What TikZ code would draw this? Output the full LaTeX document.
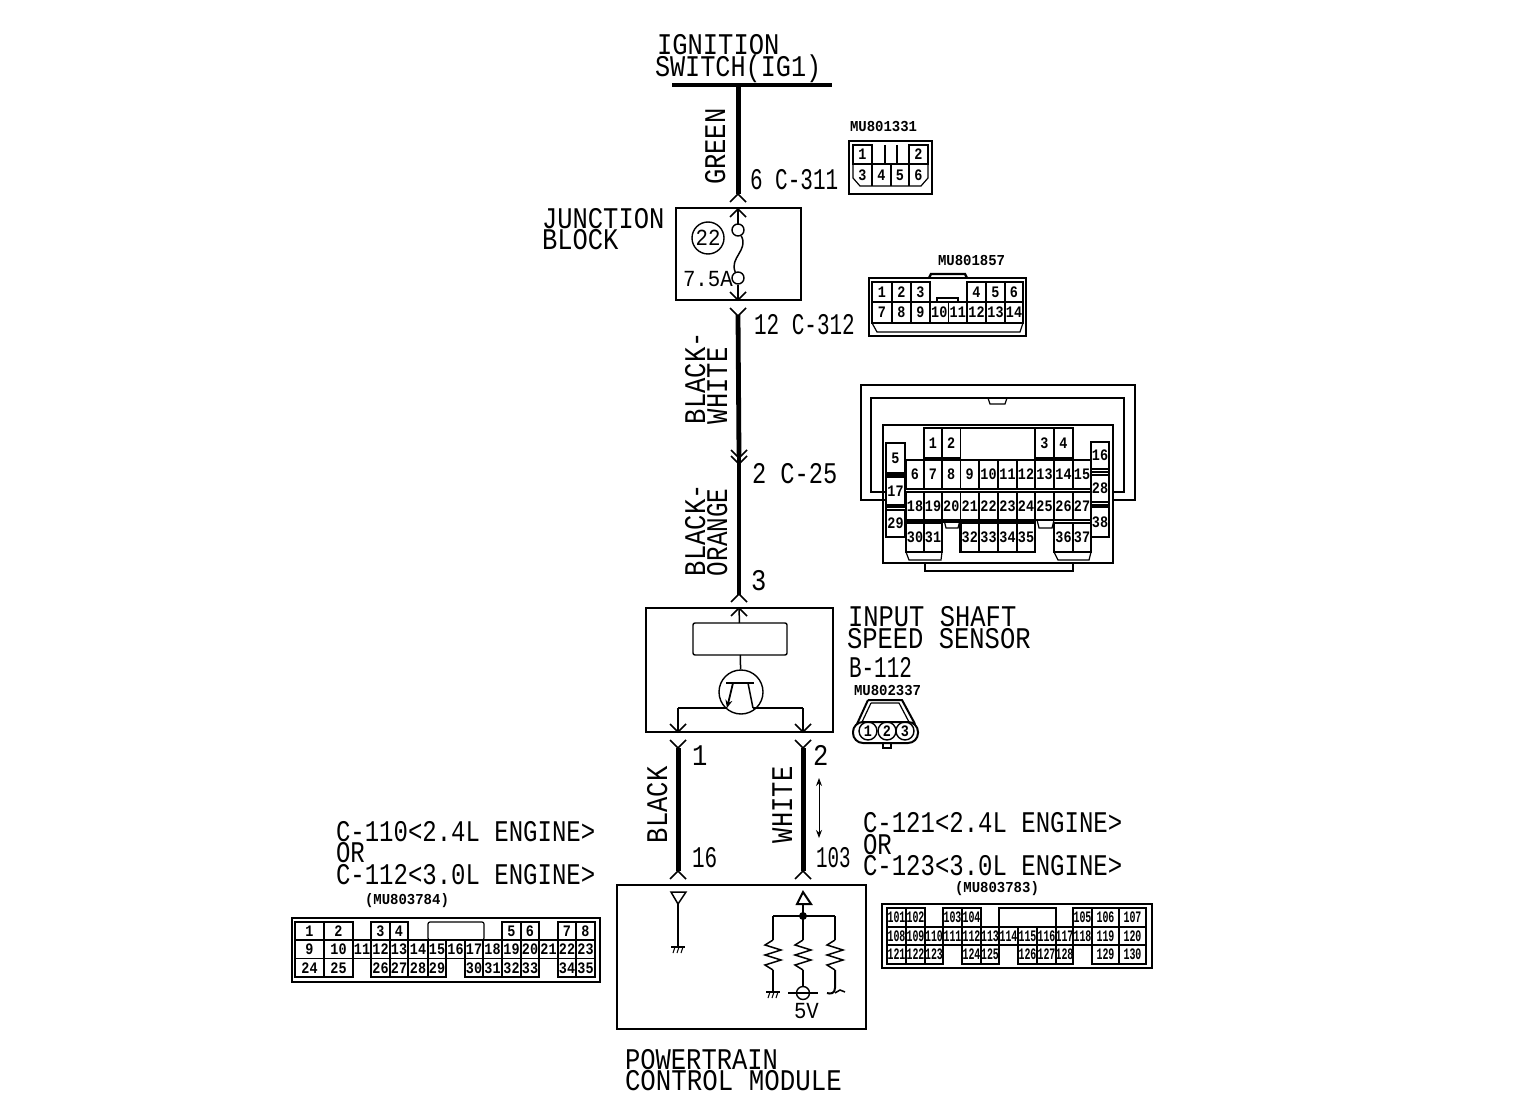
\documentclass[tikz,border=0pt]{standalone}
\usepackage{fontspec}
\usepackage{graphicx}
\newfontfamily\monof{Liberation Mono}
\usetikzlibrary{arrows.meta}
\newcounter{pinctr}
\newcommand{\bigx}[2]{\scalebox{#1}[1]{\fontsize{15}{15}\selectfont\monof #2}}
\newcommand{\bigt}[1]{\bigx{.85}{#1}}
\newcommand{\midt}[1]{\scalebox{.9}[1]{\fontsize{11.5}{12}\selectfont\monof #1}}
\newcommand{\smallt}[1]{\scalebox{.92}[1]{\fontsize{7.6}{8}\selectfont\monof\bfseries #1}}
\newcommand{\pint}[1]{\scalebox{.84}[1]{\fontsize{8}{8}\selectfont\monof\bfseries #1}}
\newcommand{\pinw}[1]{\scalebox{.62}[1]{\fontsize{8}{8}\selectfont\monof\bfseries #1}}
% x1 x2 y1 y2 label
\newcommand{\pinc}[5]{\stepcounter{pinctr}%
  \draw[pinl] (#1,#3) rectangle (#2,#4);%
  \node[txt,anchor=center,name=p\thepinctr] at ({(#1+#2)/2},{(#3+#4)/2}) {\pint{#5}};}
\newcommand{\pinb}[5]{\stepcounter{pinctr}%
  \draw[pinl] (#1,#3) rectangle (#2,#4);%
  \node[txt,anchor=center,name=p\thepinctr] at ({(#1+#2)/2},{(#3+#4)/2}) {\pinw{#5}};}
\newcommand{\chevup}[2]{\draw[thinw] ({#1-8},{#2+8}) -- (#1,#2) -- ({#1+8},{#2+8});}
\newcommand{\chevdn}[2]{\draw[thinw] ({#1-8},{#2-8}) -- (#1,#2) -- ({#1+8},{#2-8});}
\newcommand{\resi}[2]{\draw[thinw] (#1,#2) -- ({#1-8},{#2+5}) -- ({#1+8},{#2+10}) -- ({#1-8},{#2+15}) -- ({#1+8},{#2+20}) -- ({#1-8},{#2+25}) -- (#1,{#2+30});}
\newcommand{\gnd}[2]{\draw[thinw] ({#1-7},#2) -- ({#1+7},#2);
  \foreach \k in {-4,0,4} {\draw[hair] ({#1+\k+1},#2) -- ({#1+\k-1},{#2+6});}}
\tikzset{
  x=0.5pt,y=-0.5pt,
  txt/.style={inner sep=0pt,outer sep=0pt,anchor=base west},
  wire/.style={line width=2.5pt},
  thinw/.style={line width=0.75pt},
  hair/.style={line width=0.5pt},
  pinl/.style={line width=0.6pt},
  thk/.style={line width=1.2pt},
  boxst/.style={draw,line width=0.7pt,inner sep=0pt,outer sep=0pt},
}
\begin{document}
\begin{tikzpicture}
\useasboundingbox (0,0) rectangle (1536,1096);
% ---------- coordinates
\coordinate (barL) at (672,85);
\coordinate (barR) at (832,85);
\coordinate (swb) at (738,85);
\coordinate (a311) at (738,194);
\coordinate (b311) at (738,208);
\coordinate (f1) at (738,230);
\coordinate (f2) at (738,278);
\coordinate (a312) at (738,300);
\coordinate (b312) at (738,315);
\coordinate (c25) at (739,595);
\coordinate (s3) at (739,608);
\coordinate (e1) at (678,708);
\coordinate (e2) at (803,708);
\coordinate (w1a) at (678,732);
\coordinate (w1b) at (678,748);
\coordinate (w2a) at (803,732);
\coordinate (w2b) at (803,748);
\coordinate (w1c) at (678,871);
\coordinate (w2c) at (803,871);
\coordinate (aU) at (819,778);
\coordinate (aD) at (819,838);
% ---------- main boxes
\node[boxst,minimum width=62.5pt,minimum height=46pt] (jb) at (738.5,254) {};
\node[boxst,minimum width=93.5pt,minimum height=62pt] (sens) at (739.5,670) {};
\node[boxst,minimum width=124.5pt,minimum height=72pt,line width=1pt] (pcm) at (741.5,957) {};
\node[boxst,rounded corners=1pt,minimum width=47pt,minimum height=16pt] (ic) at (740,639) {};
% ---------- wires
\draw[line width=2pt] (barL) -- (barR);
\draw[wire] (swb) -- (a311);
\chevup{738}{194}
\chevup{738}{209}
\draw[thinw] (b311) -- (738,224);
\node[draw,circle,line width=.7pt,minimum size=6pt,inner sep=0pt,fill=white] (fc1) at (f1) {};
\node[draw,circle,line width=.7pt,minimum size=6pt,inner sep=0pt,fill=white] (fc2) at (f2) {};
\draw[thinw] (fc1) .. controls (749,250) and (729,258) .. (fc2);
\draw[thinw] (fc2) -- (a312);
\chevdn{738}{300}
\chevdn{738}{316}
\draw[line width=2.4pt] (b312) -- (739,455);
\draw[line width=2pt] (739,455) -- (c25);
\chevdn{739}{458}
\chevdn{739}{464}
\chevup{739}{594}
\chevup{739}{608}
\draw[thinw] (s3) -- (ic);
% transistor
\node[draw,circle,line width=.7pt,minimum size=22pt,inner sep=0pt] (tr) at (741,692) {};
\draw[thinw] (ic) -- (tr);
\draw[line width=1pt] (726,683) -- (754,683);
\draw[line width=.9pt,-{Stealth[length=4pt,width=3.5pt]}] (733,683) -- (727,708);
\draw[thinw] (748,683) -- (753,708);
\draw[line width=1pt] (e1) -- (727,708);
\draw[thinw] (753,708) -- (e2);
\draw[thinw] (e1) -- (w1a);
\draw[thinw] (e2) -- (w2a);
\chevdn{678}{732}
\chevdn{803}{732}
\chevdn{678}{748}
\chevdn{803}{748}
\draw[wire] (w1b) -- (w1c);
\draw[wire] (w2b) -- (w2c);
\chevup{678}{871}
\chevup{803}{871}
\draw[hair,{Stealth[length=4pt,width=3pt]}-{Stealth[length=4pt,width=3pt]}] (aU) -- (aD);
% PCM internals
\draw[thinw] (671,892) -- (686,892) -- (678,904) -- cycle;
\draw[line width=1pt] (678,904) -- (678,947);
\gnd{678}{947}
\draw[line width=1pt] (803,892) -- (811,904) -- (797,904) -- cycle;
\draw[line width=1.2pt] (803,904) -- (803,940);
\draw[line width=1pt] (773,916) -- (803,916);
\draw[thinw] (803,916) -- (835,916);
\fill (803,916) circle[radius=4];
\draw[thinw] (773,916) -- (773,940);
\draw[thinw] (835,916) -- (835,940);
\resi{773}{940}
\resi{803}{940}
\resi{835}{940}
\draw[thinw] (773,970) -- (773,992);
\gnd{773}{992}
\draw[thinw] (803,970) -- (803,987);
\draw[thinw] (788,993) -- (818,993);
\node[draw,circle,line width=.7pt,minimum size=6.5pt,inner sep=0pt] (v5) at (803,993) {};
\draw[line width=1pt] (835,970) -- (835,988) .. controls (835,994) and (830,994) .. (827,993);
\draw[thinw] (835,993) -- (840,990) -- (845,992);
% ---------- labels
\node[txt] (t1) at (657,55) {\bigt{IGNITION}};
\node[txt] (t2) at (655,77) {\bigx{.84}{SWITCH(IG1)}};
\node[txt,rotate=90] (t3) at (725,185) {\bigt{GREEN}};
\node[txt] (t4) at (750,190) {\bigx{.70}{6 C-311}};
\node[txt] (t5) at (542,229) {\bigt{JUNCTION}};
\node[txt] (t6) at (542,250) {\bigt{BLOCK}};
\node[txt] (t7) at (683,287) {\midt{7.5A}};
\node[draw,circle,line width=.7pt,minimum size=16pt,inner sep=0pt] (c22) at (708,238) {\midt{22}};
\node[txt] (t8) at (754,335) {\bigx{.70}{12 C-312}};
\node[txt,rotate=90] (t9) at (705,424) {\bigt{BLACK-}};
\node[txt,rotate=90] (t10) at (727,424) {\bigt{WHITE}};
\node[txt] (t11) at (752,483) {\bigx{.79}{2 C-25}};
\node[txt,rotate=90] (t12) at (705,576) {\bigt{BLACK-}};
\node[txt,rotate=90] (t13) at (727,576) {\bigx{.81}{ORANGE}};
\node[txt] (t14) at (751,590) {\bigt{3}};
\node[txt] (t15) at (848,626) {\bigt{INPUT SHAFT}};
\node[txt] (t16) at (847,648) {\bigt{SPEED SENSOR}};
\node[txt] (t17) at (849,677) {\bigx{.70}{B-112}};
\node[txt] (t18) at (854,695) {\smallt{MU802337}};
\node[txt] (t19) at (692,765) {\bigt{1}};
\node[txt] (t20) at (813,765) {\bigt{2}};
\node[txt,rotate=90] (t21) at (667,843) {\bigt{BLACK}};
\node[txt,rotate=90] (t22) at (792,843) {\bigt{WHITE}};
\node[txt] (t23) at (692,867) {\bigx{.70}{16}};
\node[txt] (t24) at (816,867) {\bigx{.64}{103}};
\node[txt] (t25) at (336,841) {\bigx{.80}{C-110<2.4L ENGINE>}};
\node[txt] (t26) at (336,862) {\bigx{.80}{OR}};
\node[txt] (t27) at (336,884) {\bigx{.80}{C-112<3.0L ENGINE>}};
\node[txt] (t28) at (863,832) {\bigx{.80}{C-121<2.4L ENGINE>}};
\node[txt] (t29) at (863,854) {\bigx{.80}{OR}};
\node[txt] (t30) at (863,875) {\bigx{.80}{C-123<3.0L ENGINE>}};
\node[txt] (t31) at (365,904) {\smallt{(MU803784)}};
\node[txt] (t32) at (955,892) {\smallt{(MU803783)}};
\node[txt] (t33) at (625,1069) {\bigt{POWERTRAIN}};
\node[txt] (t34) at (625,1090) {\bigx{.86}{CONTROL MODULE}};
\node[txt] (t35) at (850,132) {\smallt{MU801331}};
\node[txt] (t36) at (938,266) {\smallt{MU801857}};
\node[txt] (t37) at (794,1018) {\midt{5V}};
% ---------- C-311 connector
\draw[thk] (849,141) rectangle (932,194);
\pinc{853}{872}{145}{164}{1}
\pinc{909}{928}{145}{164}{2}
\draw[pinl] (885,145) -- (885,164) (897,145) -- (897,164) (872,164) -- (909,164);
\draw[pinl] (853,164) -- (853,178) -- (860,186) -- (921,186) -- (928,178) -- (928,164);
\draw[pinl] (872,164) -- (872,186) (891,164) -- (891,186) (909,164) -- (909,186);
\node[txt,anchor=center] (n3) at (862.5,175) {\pint{3}};
\node[txt,anchor=center] (n4) at (881.5,175) {\pint{4}};
\node[txt,anchor=center] (n5) at (900,175) {\pint{5}};
\node[txt,anchor=center] (n6) at (918.5,175) {\pint{6}};
% ---------- C-312 connector
\draw[thk] (869,278) rectangle (1026,336);
\draw[thk] (929,278) -- (931,274) -- (965,274) -- (967,278);
\foreach \a/\b/\l in {872/892/1,892/911/2,911/930/3,967/986/4,986/1005/5,1005/1023/6}{\pinc{\a}{\b}{282}{302}{\l}}
\foreach \a/\b/\l in {872/892/7,892/911/8,911/930/9,930/948.5/10,948.5/967/11,967/986/12,986/1005/13,1005/1023/14}{\pinc{\a}{\b}{302}{323}{\l}}
\draw[pinl] (937,302) -- (937,298) -- (958,298) -- (958,302);
\draw[pinl] (872,323) -- (877,332) -- (1020,332) -- (1023,323);
% ---------- C-25 connector
\draw[pinl] (885,500) -- (861,500) -- (861,385) -- (1135,385) -- (1135,500) -- (1113,500);
\draw[pinl] (885,492) -- (871,492) -- (871,398) -- (1124,398) -- (1124,492) -- (1113,492);
\draw[pinl] (988,398) -- (990,404) -- (1005,404) -- (1007,398);
\draw[thinw] (883,425) rectangle (1113,563);
\draw[thinw] (925,563) -- (925,571) -- (1073,571) -- (1073,563);
\draw[pinl] (960.5,428) -- (1035,428) (960.5,460) -- (1035,460);
\foreach \a/\b/\l in {924/942/1,942/960.5/2,1035/1054/3,1054/1073/4}{\pinc{\a}{\b}{428}{458}{\l}}
\foreach \a/\b/\l in {906/924/6,924/942/7,942/960.5/8,960.5/979/9,979/998/10,998/1017/11,1017/1035/12,1035/1054/13,1054/1073/14,1073/1091/15}{\pinc{\a}{\b}{460}{489}{\l}}
\foreach \a/\b/\l in {906/924/18,924/942/19,942/960.5/20,960.5/979/21,979/998/22,998/1017/23,1017/1035/24,1035/1054/25,1054/1073/26,1073/1091/27}{\pinc{\a}{\b}{492}{520}{\l}}
\foreach \a/\b/\l in {906/924/30,924/942/31,960.5/979/32,979/998/33,998/1017/34,1017/1035/35,1054/1073/36,1073/1091/37}{\pinc{\a}{\b}{523}{552}{\l}}
\foreach \c/\d/\l in {443/473/5,477/505/17,510/537/29}{\pinc{886}{905}{\c}{\d}{\l}}
\foreach \c/\d/\l in {442/469/16,475/502/28,507/537/38}{\pinc{1091}{1109}{\c}{\d}{\l}}
\draw[thk] (906,489) -- (1091,489) (906,522) -- (1035,522);
\draw[thk] (906,492) -- (906,552) -- (942,552) (960.5,522) -- (960.5,552) -- (1035,552) -- (1035,492);
\draw[thk] (886,443) -- (886,537) -- (905,537) (1109,442) -- (1109,510) (886,475) -- (905,475) (886,507) -- (905,507) (1091,472) -- (1109,472) (1091,505) -- (1109,505);
\draw[pinl] (906,552) -- (909,560) -- (941,560) -- (942,552);
\draw[pinl] (1054,552) -- (1058,560) -- (1089,560) -- (1091,552);
\draw[pinl] (944,520) -- (946,528) -- (958,528) -- (960,520);
\draw[pinl] (1037,520) -- (1039,528) -- (1052,528) -- (1054,520);
% ---------- MU802337 connector
\draw[line width=1pt] (868,700) -- (902,700) -- (915,724) (868,700) -- (857,724);
\draw[pinl] (871,703) -- (899,703) -- (909,722) (871,703) -- (862,722);
\node[draw,rounded corners=5pt,line width=1pt,minimum width=32.5pt,minimum height=10.5pt,inner sep=0pt] (cap) at (885.5,732.5) {};
\foreach \cx/\l in {868/1,887/2,905/3}{\stepcounter{pinctr}\node[draw,circle,line width=.7pt,minimum size=9pt,inner sep=0pt,name=p\thepinctr] at (\cx,731) {\pint{\l}};}
\draw[pinl] (883,743) rectangle (891,748);
% ---------- C-110 connector
\draw[thinw] (292,918) rectangle (600,982);
\foreach \a/\b/\l in {295/324/1,324/353/2,371/390/3,390/408/4,502/521/5,521/539/6,558/576/7,576/595/8}{\pinc{\a}{\b}{922}{940}{\l}}
\draw[pinl,rounded corners=1pt] (428,922) rectangle (484,940);
\foreach \a/\b/\l in {295/324/9,324/353/10,353/371/11,371/390/12,390/408/13,408/428/14,428/446/15,446/465/16,465/483/17,483/502/18,502/521/19,521/539/20,539/558/21,558/576/22,576/595/23}{\pinc{\a}{\b}{940}{958.5}{\l}}
\foreach \a/\b/\l in {295/324/24,324/353/25,371/390/26,390/408/27,408/428/28,428/446/29,465/483/30,483/502/31,502/521/32,521/539/33,558/576/34,576/595/35}{\pinc{\a}{\b}{958.5}{977}{\l}}
\draw[thk] (295,922) rectangle (353,977) (295,940) -- (353,940);
\draw[thk] (324,922) -- (324,940) (390,922) rectangle (408,977);
\draw[thk] (371,940) -- (408,940) (446,958.5) -- (446,977) (446,940) -- (502,940) (502,922) rectangle (539,940);
\draw[thk] (558,922) rectangle (595,977) (558,940) -- (595,940) (502,940) -- (502,977);
% ---------- C-121 connector
\draw[thk] (882,904) rectangle (1152,968);
\foreach \a/\b/\l in {887/906/101,906/925/102,943/962/103,962/981/104,1073/1092/105,1092/1119/106,1119/1146/107}{\pinb{\a}{\b}{908}{927}{\l}}
\draw[pinl] (999,908) rectangle (1056,927);
\foreach \a/\b/\l in {887/906/108,906/925/109,925/943/110,943/962/111,962/981/112,981/999/113,999/1018/114,1018/1037/115,1037/1056/116,1056/1073/117,1073/1092/118,1092/1119/119,1119/1146/120}{\pinb{\a}{\b}{927}{945}{\l}}
\foreach \a/\b/\l in {887/906/121,906/925/122,925/943/123,962/981/124,981/999/125,1018/1037/126,1037/1056/127,1056/1073/128,1092/1119/129,1119/1146/130}{\pinb{\a}{\b}{945}{964}{\l}}
\draw[thk] (887,908) rectangle (925,927) (906,908) -- (906,927) (887,945) rectangle (943,964);
\draw[thk] (943,908) rectangle (981,927) (962,908) -- (962,927) (962,927) -- (962,964) -- (999,964) -- (999,945) -- (962,945);
\draw[thk] (1018,945) rectangle (1073,964) (1018,927) -- (1018,945) (1073,908) rectangle (1092,927) (1119,908) -- (1119,964);
\end{tikzpicture}
\end{document}
